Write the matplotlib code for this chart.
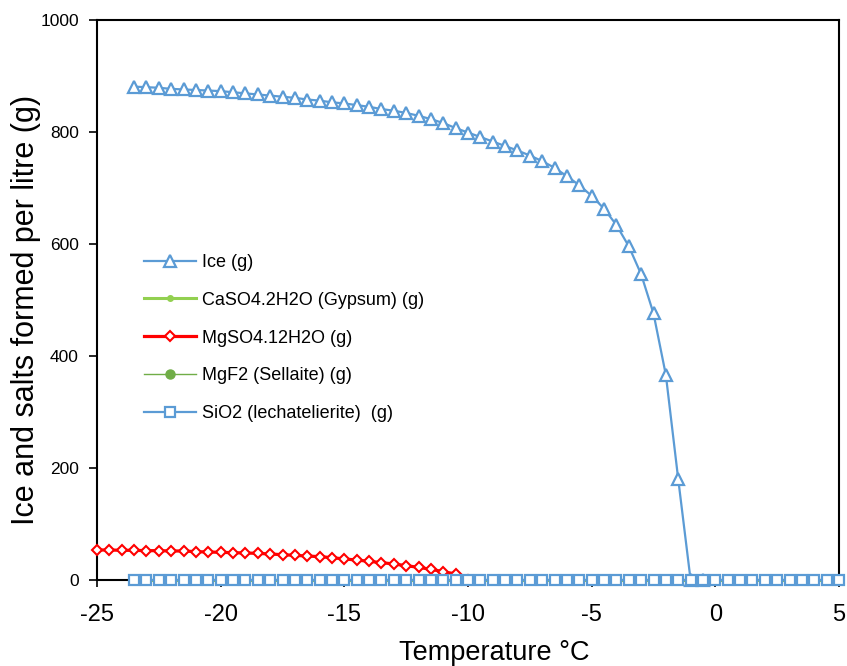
import matplotlib
matplotlib.use("Agg")
import matplotlib.pyplot as plt

plt.rcParams['font.family'] = ['Liberation Sans', 'DejaVu Sans']
plt.rcParams['axes.unicode_minus'] = False

# --- Data ---
ice_temp = [-23.5, -23, -22.5, -22, -21.5, -21, -20.5, -20, -19.5, -19,
            -18.5, -18, -17.5, -17, -16.5, -16, -15.5, -15, -14.5, -14,
            -13.5, -13, -12.5, -12, -11.5, -11, -10.5, -10, -9.5, -9,
            -8.5, -8, -7.5, -7, -6.5, -6, -5.5, -5, -4.5, -4,
            -3.5, -3, -2.5, -2, -1.5, -1, -0.5]
ice = [881, 880, 879, 877, 876, 875, 874, 873, 871, 869,
       867, 865, 863, 861, 858, 856, 853, 851, 848, 845,
       841, 838, 834, 829, 823, 816, 807, 799, 791, 783,
       775, 767, 758, 748, 736, 721, 705, 686, 663, 634,
       596, 546, 476, 366, 180, 0, 0]

mg_temp = [-25, -24.5, -24, -23.5, -23, -22.5, -22, -21.5, -21, -20.5,
           -20, -19.5, -19, -18.5, -18, -17.5, -17, -16.5, -16, -15.5,
           -15, -14.5, -14, -13.5, -13, -12.5, -12, -11.5, -11, -10.5, -10]
mgso4 = [53.6, 53.6, 53.0, 53.0, 52.4, 52.4, 51.8, 51.8, 50.6, 50.0,
         49.4, 48.8, 48.2, 47.6, 46.4, 45.2, 44.0, 42.8, 41.7, 39.9,
         37.5, 35.7, 33.3, 31.0, 28.6, 25.6, 22.6, 19.0, 14.9, 10.7, 0]

salt_temp = [-23.5, -23, -22.5, -22, -21.5, -21, -20.5, -20, -19.5, -19,
             -18.5, -18, -17.5, -17, -16.5, -16, -15.5, -15, -14.5, -14,
             -13.5, -13, -12.5, -12, -11.5, -11, -10.5, -10, -9.5, -9,
             -8.5, -8, -7.5, -7, -6.5, -6, -5.5, -5, -4.5, -4,
             -3.5, -3, -2.5, -2, -1.5, -1, -0.5, 0, 0.5, 1,
             1.5, 2, 2.5, 3, 3.5, 4, 4.5, 5]
gypsum = [0] * len(salt_temp)
mgf2 = [0] * len(salt_temp)
sio2 = [0] * len(salt_temp)

x_ticks = [-25, -20, -15, -10, -5, 0, 5]
y_ticks = [0, 200, 400, 600, 800, 1000]

blue = '#5B9BD5'

fig = plt.figure(figsize=(8.47, 6.66), dpi=100)
ax = fig.add_axes([97/847, 86/666, 742/847, 560/666])

ax.plot(ice_temp, ice, color=blue, lw=1.6, marker='^', ms=8, mfc='white',
        mec=blue, mew=1.6, label='Ice (g)', zorder=2, clip_on=False)
ax.plot(salt_temp, gypsum, color='#92D050', lw=2.2, marker='o', ms=4,
        mfc='#92D050', mec='#92D050', label='CaSO4.2H2O (Gypsum) (g)', zorder=3, clip_on=False)
ax.plot(mg_temp, mgso4, color='#FF0000', lw=2.3, marker='D', ms=5.5, mfc='white',
        mec='#FF0000', mew=1.5, label='MgSO4.12H2O (g)', zorder=4, clip_on=False)
ax.plot(salt_temp, mgf2, color='#70AD47', lw=1.0, marker='o', ms=6.5,
        mfc='#70AD47', mec='#70AD47', label='MgF2 (Sellaite) (g)', zorder=5, clip_on=False)
ax.plot(salt_temp, sio2, color=blue, lw=1.6, marker='s', ms=7.5, mfc='white',
        mec=blue, mew=1.6, label='SiO2 (lechatelierite)  (g)', zorder=6, clip_on=False)

ax.set_xlim(-25, 5)
ax.set_ylim(0, 1000)
ax.set_xticks(x_ticks)
ax.set_yticks(y_ticks)
ax.tick_params(axis='x', labelsize=17, direction='out', length=5, width=1.2, pad=12)
ax.tick_params(axis='y', labelsize=12.5, direction='out', length=6, width=1.2, pad=7)
for s in ax.spines.values():
    s.set_linewidth(1.5)
    s.set_zorder(1)

ax.set_xlabel('Temperature °C', fontsize=19.5)
ax.xaxis.set_label_coords(0.535, -0.108)
ax.set_ylabel('Ice and salts formed per litre (g)', fontsize=22)
ax.yaxis.set_label_coords(-0.076, 0.483)

leg = ax.legend(loc='center left', bbox_to_anchor=(0.041, 0.432), frameon=False,
                fontsize=13, handlelength=2.9, handletextpad=0.35, labelspacing=1.15)

fig.savefig('out.png', dpi=100)
